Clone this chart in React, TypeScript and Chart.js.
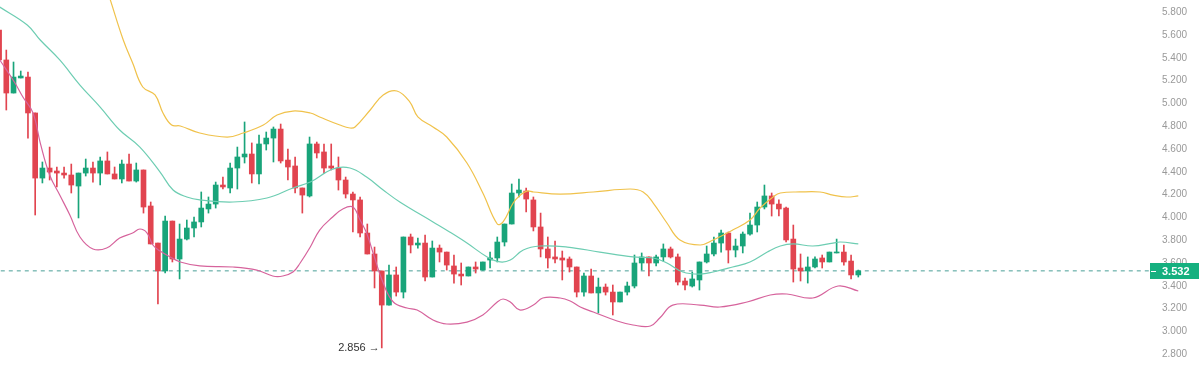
import { useEffect, useRef } from "react";
import { Chart, registerables } from "chart.js";

Chart.register(...registerables);

// ---- data ----
const opens = [
  5.645, 5.382, 5.092, 5.224, 5.232, 4.917, 4.346, 4.434, 4.408, 4.39,
  4.373, 4.276, 4.39, 4.434, 4.39, 4.496, 4.382, 4.338, 4.469, 4.32,
  4.417, 4.101, 3.776, 3.531, 3.969, 3.636, 3.811, 3.908, 3.961, 4.075,
  4.118, 4.285, 4.259, 4.434, 4.531, 4.557, 4.382, 4.645, 4.697, 4.776,
  4.504, 4.452, 4.259, 4.189, 4.645, 4.575, 4.452, 4.434, 4.329, 4.206,
  4.154, 3.864, 3.68, 3.531, 3.232, 3.496, 3.346, 3.829, 3.759, 3.776,
  3.478, 3.732, 3.697, 3.575, 3.504, 3.487, 3.566, 3.539, 3.627, 3.645,
  3.785, 3.943, 4.215, 4.232, 4.154, 3.917, 3.724, 3.654, 3.645, 3.636,
  3.566, 3.346, 3.487, 3.338, 3.39, 3.346, 3.259, 3.346, 3.399, 3.601,
  3.654, 3.601, 3.654, 3.724, 3.654, 3.443, 3.399, 3.452, 3.61, 3.68,
  3.776, 3.864, 3.715, 3.75, 3.855, 3.934, 4.092, 4.189, 4.118, 4.083,
  3.811, 3.557, 3.531, 3.566, 3.645, 3.61, 3.689, 3.697, 3.618, 3.496,
];
const highs = [
  5.663, 5.469, 5.364, 5.285, 5.276, 4.917, 4.487, 4.618, 4.443, 4.443,
  4.469, 4.39, 4.513, 4.487, 4.531, 4.575, 4.443, 4.504, 4.557, 4.478,
  4.417, 4.136, 3.776, 4.013, 3.969, 3.943, 3.978, 4.004, 4.224, 4.18,
  4.311, 4.355, 4.478, 4.618, 4.838, 4.654, 4.724, 4.75, 4.794, 4.82,
  4.601, 4.531, 4.259, 4.706, 4.662, 4.645, 4.645, 4.531, 4.355, 4.224,
  4.18, 3.943, 3.741, 3.531, 3.583, 3.566, 3.829, 3.855, 3.82, 3.846,
  3.794, 3.759, 3.697, 3.671, 3.601, 3.566, 3.61, 3.61, 3.697, 3.829,
  3.943, 4.294, 4.338, 4.259, 4.18, 4.039, 3.829, 3.794, 3.706, 3.654,
  3.566, 3.513, 3.548, 3.469, 3.417, 3.408, 3.346, 3.434, 3.671, 3.689,
  3.654, 3.671, 3.768, 3.741, 3.68, 3.469, 3.522, 3.61, 3.75, 3.829,
  3.89, 3.873, 3.811, 3.873, 4.039, 4.136, 4.285, 4.215, 4.154, 4.092,
  3.934, 3.68, 3.654, 3.654, 3.671, 3.697, 3.811, 3.759, 3.671, 3.539,
];
const lows = [
  5.337, 4.943, 5.092, 5.224, 4.697, 4.022, 4.303, 4.329, 4.268, 4.346,
  4.215, 3.996, 4.364, 4.311, 4.285, 4.382, 4.338, 4.303, 4.32, 4.311,
  4.039, 3.768, 3.241, 3.513, 3.61, 3.461, 3.803, 3.829, 3.917, 4.039,
  4.083, 4.25, 4.215, 4.25, 4.478, 4.303, 4.294, 4.592, 4.487, 4.478,
  4.329, 4.215, 4.039, 4.18, 4.522, 4.39, 4.417, 4.241, 4.171, 3.873,
  3.829, 3.68, 3.382, 2.856, 3.232, 3.311, 3.294, 3.689, 3.732, 3.443,
  3.478, 3.61, 3.539, 3.425, 3.408, 3.487, 3.513, 3.539, 3.557, 3.61,
  3.75, 3.943, 4.18, 4.048, 3.882, 3.654, 3.557, 3.601, 3.452, 3.522,
  3.303, 3.311, 3.338, 3.162, 3.32, 3.145, 3.259, 3.32, 3.382, 3.539,
  3.487, 3.575, 3.618, 3.645, 3.408, 3.364, 3.39, 3.364, 3.601, 3.662,
  3.697, 3.601, 3.654, 3.689, 3.846, 3.873, 4.075, 4.013, 4.013, 3.785,
  3.434, 3.443, 3.425, 3.557, 3.557, 3.61, 3.689, 3.583, 3.461, 3.478,
];
const closes = [
  5.382, 5.092, 5.232, 5.241, 4.917, 4.346, 4.434, 4.399, 4.39, 4.373,
  4.285, 4.39, 4.434, 4.39, 4.496, 4.382, 4.338, 4.469, 4.32, 4.417,
  4.092, 3.768, 3.531, 3.969, 3.636, 3.811, 3.908, 3.961, 4.083, 4.118,
  4.285, 4.268, 4.434, 4.531, 4.557, 4.382, 4.645, 4.697, 4.776, 4.496,
  4.443, 4.259, 4.197, 4.645, 4.566, 4.434, 4.434, 4.329, 4.206, 4.154,
  3.864, 3.68, 3.531, 3.232, 3.496, 3.346, 3.829, 3.759, 3.776, 3.478,
  3.732, 3.697, 3.583, 3.504, 3.487, 3.566, 3.548, 3.61, 3.645, 3.785,
  3.943, 4.215, 4.241, 4.162, 3.917, 3.724, 3.645, 3.636, 3.627, 3.566,
  3.346, 3.487, 3.338, 3.39, 3.346, 3.259, 3.346, 3.399, 3.601, 3.654,
  3.601, 3.654, 3.724, 3.654, 3.434, 3.408, 3.461, 3.61, 3.68, 3.776,
  3.864, 3.715, 3.75, 3.855, 3.934, 4.092, 4.189, 4.118, 4.075, 3.803,
  3.548, 3.531, 3.566, 3.636, 3.61, 3.697, 3.697, 3.61, 3.496, 3.532,
];

// Bollinger bands, sampled as [candle index, value]
const upperBand: [number, number][] = [
  [15.4, 5.91], [17.2, 5.557], [18.5, 5.355], [19.9, 5.145], [21.6, 5.075],
  [22.7, 4.917], [23.9, 4.811], [25.1, 4.803], [27.8, 4.741], [31.6, 4.706],
  [33.8, 4.741], [36.6, 4.811], [38.5, 4.899], [40.7, 4.934], [43.1, 4.917],
  [44.4, 4.882], [47.2, 4.811], [48.6, 4.785], [49.3, 4.794], [51.4, 4.943],
  [53.2, 5.075], [55.1, 5.11], [56.9, 5.013], [58.0, 4.882], [60.1, 4.794],
  [62.0, 4.706], [64.8, 4.478], [67.0, 4.215], [69.0, 3.943], [69.8, 3.961],
  [71.2, 4.127], [72.2, 4.197], [73.1, 4.232], [74.0, 4.224], [77.7, 4.206],
  [82.3, 4.224], [87.4, 4.25], [89.2, 4.224], [90.6, 4.127], [92.5, 3.952],
  [94.3, 3.803], [97.1, 3.759], [98.9, 3.803], [101.6, 3.89], [104.0, 3.978],
  [105.4, 4.083], [107.2, 4.18], [108.2, 4.215], [110.9, 4.224], [113.7, 4.224],
  [115.5, 4.197], [117.4, 4.18], [119, 4.189],
];
const middleBand: [number, number][] = [
  [0.1, 5.846], [3.9, 5.689], [5.7, 5.557], [8.4, 5.382], [11.2, 5.162],
  [14.0, 4.969], [16.7, 4.768], [19.5, 4.618], [22.3, 4.399], [24.1, 4.241],
  [26.0, 4.18], [27.8, 4.154], [32.4, 4.136], [37.1, 4.171], [40.7, 4.259],
  [43.1, 4.311], [46.2, 4.425], [48.6, 4.434], [50.9, 4.355], [53.2, 4.241],
  [55.5, 4.136], [60.1, 3.961], [62.4, 3.873], [64.8, 3.776], [67.6, 3.654],
  [69.4, 3.61], [70.8, 3.627], [72.6, 3.715], [74.9, 3.75], [78.7, 3.741],
  [83.2, 3.697], [87.8, 3.654], [90.6, 3.645], [92.5, 3.601], [94.7, 3.522],
  [97.1, 3.504], [98.9, 3.522], [101.6, 3.566], [104.0, 3.61], [106.4, 3.697],
  [108.2, 3.75], [110.0, 3.768], [112.7, 3.75], [115.5, 3.776], [116.5, 3.785],
  [119, 3.768],
];
const lowerBand: [number, number][] = [
  [0.1, 5.382], [2.2, 5.18], [3.3, 5.057], [4.7, 4.917], [5.7, 4.654],
  [7.0, 4.373], [8.4, 4.197], [9.8, 4.022], [11.2, 3.829], [13.0, 3.724],
  [14.9, 3.732], [16.7, 3.82], [18.5, 3.864], [19.5, 3.899], [20.5, 3.864],
  [21.3, 3.759], [22.3, 3.706], [23.7, 3.654], [25.1, 3.61], [27.8, 3.575],
  [32.4, 3.566], [35.7, 3.539], [37.9, 3.487], [39.3, 3.487], [40.7, 3.522],
  [41.7, 3.601], [43.1, 3.741], [44.4, 3.89], [46.2, 4.004], [47.6, 4.075],
  [49.0, 4.092], [50.0, 3.978], [50.9, 3.864], [51.8, 3.689], [53.2, 3.425],
  [54.6, 3.259], [56.5, 3.206], [57.9, 3.189], [60.1, 3.101], [62.0, 3.066],
  [64.8, 3.083], [67.0, 3.145], [69.0, 3.259], [69.8, 3.285], [70.8, 3.259],
  [72.1, 3.189], [74.0, 3.232], [75.3, 3.294], [77.7, 3.294], [79.1, 3.268],
  [80.5, 3.215], [82.3, 3.171], [85.6, 3.092], [87.8, 3.057], [90.2, 3.048],
  [91.5, 3.118], [93.3, 3.232], [97.1, 3.232], [99.8, 3.215], [103.6, 3.259],
  [106.8, 3.32], [109.1, 3.329], [112.7, 3.294], [116.2, 3.399], [119, 3.355],
];

const yTicks = [2.8, 3.0, 3.2, 3.4, 3.6, 3.8, 4.0, 4.2, 4.4, 4.6, 4.8, 5.0, 5.2, 5.4, 5.6, 5.8];
const lastPrice = 3.532;
const lowIndex = 53;
const lowLabel = "2.856 \u2192";

// ---- styling ----
const UP = "#19a47a";
const DOWN = "#e1444f";
const X_MIN = 0.127;
const X_MAX = 159.4;
const Y_MIN = 2.522;
const Y_MAX = 5.908;

const overlayPlugin = {
  id: "overlay",
  afterDraw(chart: any) {
    const { ctx, scales } = chart;
    const xs = scales.x;
    const ys = scales.y;
    // low annotation
    const lx = xs.getPixelForValue(lowIndex);
    const ly = ys.getPixelForValue(lows[lowIndex]);
    ctx.save();
    ctx.font = "11px 'Liberation Sans', Arial, sans-serif";
    ctx.fillStyle = "#333333";
    ctx.textAlign = "right";
    ctx.textBaseline = "middle";
    ctx.fillText(lowLabel, lx - 2, ly);
    // last price tag
    const py = Math.round(ys.getPixelForValue(lastPrice));
    const left = chart.chartArea.right;
    ctx.fillStyle = "#15b07f";
    ctx.fillRect(left, py - 8, 49, 16);
    ctx.strokeStyle = "#ffffff";
    ctx.lineWidth = 1;
    ctx.beginPath();
    ctx.moveTo(left + 1, py + 0.5);
    ctx.lineTo(left + 6, py + 0.5);
    ctx.stroke();
    ctx.fillStyle = "#ffffff";
    ctx.textAlign = "left";
    ctx.font = "bold 11px 'Liberation Sans', Arial, sans-serif";
    ctx.fillText(lastPrice.toFixed(3), left + 12, py + 0.5);
    ctx.restore();
  },
};

export default function App() {
  const canvasRef = useRef<HTMLCanvasElement | null>(null);

  useEffect(() => {
    const canvas = canvasRef.current;
    if (!canvas) return;
    const colors = opens.map((o, i) => (closes[i] >= o ? UP : DOWN));
    const chart = new Chart(canvas, {
      type: "bar",
      data: {
        datasets: [
          {
            type: "line",
            data: upperBand.map(([x, y]) => ({ x, y })),
            borderColor: "#f0c24b",
            borderWidth: 1.2,
            pointRadius: 0,
            tension: 0.4,
            order: 0,
          } as any,
          {
            type: "line",
            data: middleBand.map(([x, y]) => ({ x, y })),
            borderColor: "#6dcdb2",
            borderWidth: 1.2,
            pointRadius: 0,
            tension: 0.4,
            order: 0,
          } as any,
          {
            type: "line",
            data: lowerBand.map(([x, y]) => ({ x, y })),
            borderColor: "#d6639c",
            borderWidth: 1.2,
            pointRadius: 0,
            tension: 0.4,
            order: 0,
          } as any,
          {
            type: "bar",
            data: opens.map((o, i) => ({ x: i, y: [o, closes[i]] })),
            backgroundColor: colors,
            barThickness: 5,
            minBarLength: 1,
            grouped: false,
            borderWidth: 0,
            order: 1,
          } as any,
          {
            type: "bar",
            data: lows.map((l, i) => ({ x: i, y: [l, highs[i]] })),
            backgroundColor: colors,
            barThickness: 1,
            grouped: false,
            borderWidth: 0,
            order: 2,
          } as any,
          {
            type: "line",
            data: [
              { x: X_MIN - 1, y: lastPrice },
              { x: X_MAX + 1, y: lastPrice },
            ],
            borderColor: "#4a9f97",
            borderWidth: 1,
            borderDash: [4, 4],
            pointRadius: 0,
            order: 3,
          } as any,
        ],
      },
      options: {
        responsive: false,
        animation: false,
        events: [],
        layout: { padding: 0 },
        plugins: {
          legend: { display: false },
          tooltip: { enabled: false },
        },
        scales: {
          x: {
            type: "linear",
            display: false,
            min: X_MIN,
            max: X_MAX,
            offset: false,
          },
          y: {
            type: "linear",
            position: "right",
            min: Y_MIN,
            max: Y_MAX,
            grid: { display: false, drawTicks: false },
            border: { display: false },
            ticks: {
              color: "#999999",
              padding: 12,
              font: { size: 10, family: "'Liberation Sans', Arial, sans-serif" },
              callback: (v: any) => Number(v).toFixed(3),
            },
            afterBuildTicks: (scale: any) => {
              scale.ticks = yTicks.map((v) => ({ value: v }));
            },
            afterFit: (scale: any) => {
              scale.width = 50;
              scale.paddingTop = 0;
              scale.paddingBottom = 0;
            },
          },
        },
      } as any,
      plugins: [overlayPlugin],
    });
    return () => chart.destroy();
  }, []);

  return (
    <div style={{ position: "fixed", left: 0, top: 0, width: 1200, height: 386, background: "#ffffff" }}>
      <canvas ref={canvasRef} width={1200} height={386} />
    </div>
  );
}
